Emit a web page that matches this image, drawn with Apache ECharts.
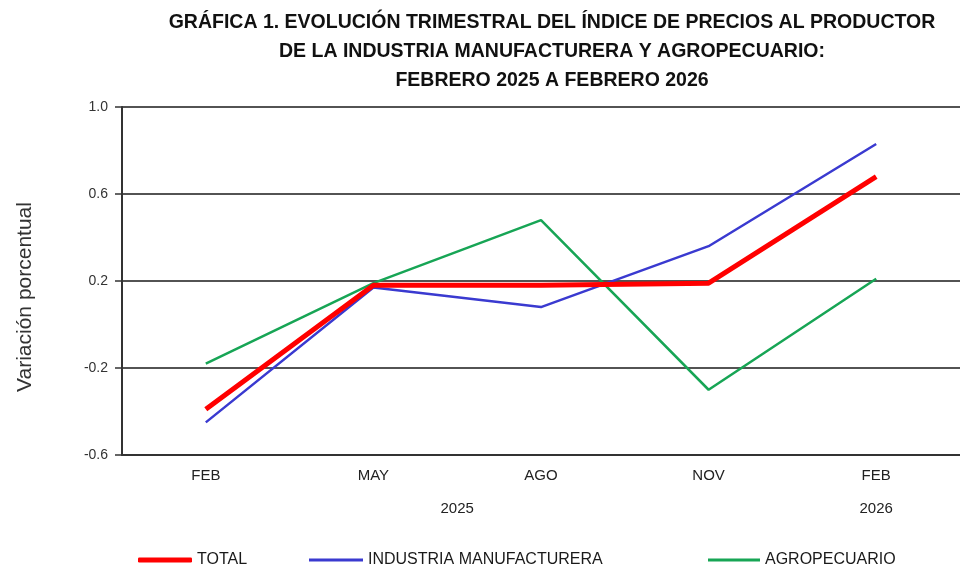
<!DOCTYPE html>
<html>
<head>
<meta charset="utf-8">
<script src="https://cdn.jsdelivr.net/npm/echarts@6/dist/echarts.min.js"></script>
<style>
  html, body { margin: 0; padding: 0; background: #fff; }
  #chart { width: 960px; height: 565px; }
</style>
</head>
<body>
<div id="chart"></div>
<script>
// quarterly categories
const months = ['FEB', 'MAY', 'AGO', 'NOV', 'FEB'];
const yearLabels = ['2025', '2026'];

// % change
const total = [-0.39, 0.18, 0.18, 0.19, 0.68];
const industria = [-0.45, 0.17, 0.08, 0.36, 0.83];
const agro = [-0.18, 0.19, 0.48, -0.30, 0.21];

const chart = echarts.init(document.getElementById('chart'));

const legendText = { fontFamily: 'Liberation Sans', fontSize: 16, color: '#1a1a1a' };

chart.setOption({
  animation: false,
  title: {
    text: 'GRÁFICA 1. EVOLUCIÓN TRIMESTRAL DEL ÍNDICE DE PRECIOS AL PRODUCTOR\nDE LA INDUSTRIA MANUFACTURERA Y AGROPECUARIO:\nFEBRERO 2025 A FEBRERO 2026',
    left: 547,
    top: 3,
    textAlign: 'center',
    textStyle: {
      fontFamily: 'Liberation Sans',
      fontWeight: 'bold',
      fontSize: 19.5,
      lineHeight: 29,
      color: '#111'
    }
  },

  grid: { left: 122, top: 107, width: 844, height: 348 },

  legend: [
    { data: ['TOTAL'], left: 133, top: 547, icon: 'roundRect', itemWidth: 54, itemHeight: 5, textStyle: legendText },
    { data: ['INDUSTRIA MANUFACTURERA'], left: 304, top: 547, icon: 'rect', itemWidth: 54, itemHeight: 3, textStyle: legendText },
    { data: ['AGROPECUARIO'], left: 703, top: 547, icon: 'rect', itemWidth: 52, itemHeight: 3, textStyle: legendText }
  ],

  xAxis: [
    {
      type: 'category',
      data: months,
      axisLine: { onZero: false, lineStyle: { color: '#333', width: 2 } },
      axisTick: { show: false },
      axisLabel: { margin: 13, fontFamily: 'Liberation Sans', fontSize: 15, color: '#222' }
    },
    {
      // year row under the month labels
      type: 'value',
      position: 'bottom',
      min: 0,
      max: 5,
      offset: 38,
      axisLine: { show: false },
      axisTick: { show: false },
      splitLine: { show: false },
      axisLabel: {
        customValues: [2, 4.5],
        formatter: v => (v === 2 ? yearLabels[0] : yearLabels[1]),
        fontFamily: 'Liberation Sans',
        fontSize: 15,
        color: '#222'
      }
    }
  ],

  yAxis: {
    type: 'value',
    min: -0.6,
    max: 1.0,
    interval: 0.4,
    name: 'Variación porcentual',
    nameLocation: 'middle',
    nameGap: 86,
    nameTextStyle: {
      fontFamily: 'Liberation Sans',
      fontSize: 21,
      color: '#333',
      padding: [0, 32, 0, 0]
    },
    axisLine: { show: true, lineStyle: { color: '#333', width: 2 } },
    axisTick: { show: true, length: 7, lineStyle: { color: '#333', width: 1.5 } },
    axisLabel: {
      margin: 14,
      fontFamily: 'Liberation Sans',
      fontSize: 14,
      color: '#333',
      formatter: v => v.toFixed(1)
    },
    splitLine: { lineStyle: { color: '#1a1a1a', width: 1.5 } }
  },

  series: [
    {
      name: 'INDUSTRIA MANUFACTURERA',
      type: 'line',
      data: industria,
      symbol: 'none',
      z: 3,
      itemStyle: { color: '#3a3ad0' },
      lineStyle: { color: '#3a3ad0', width: 2.5 }
    },
    {
      name: 'AGROPECUARIO',
      type: 'line',
      data: agro,
      symbol: 'none',
      z: 3,
      itemStyle: { color: '#17a555' },
      lineStyle: { color: '#17a555', width: 2.5 }
    },
    {
      name: 'TOTAL',
      type: 'line',
      data: total,
      symbol: 'none',
      z: 4,
      itemStyle: { color: '#ff0000' },
      lineStyle: { color: '#ff0000', width: 5 }
    }
  ]
});
</script>
</body>
</html>
